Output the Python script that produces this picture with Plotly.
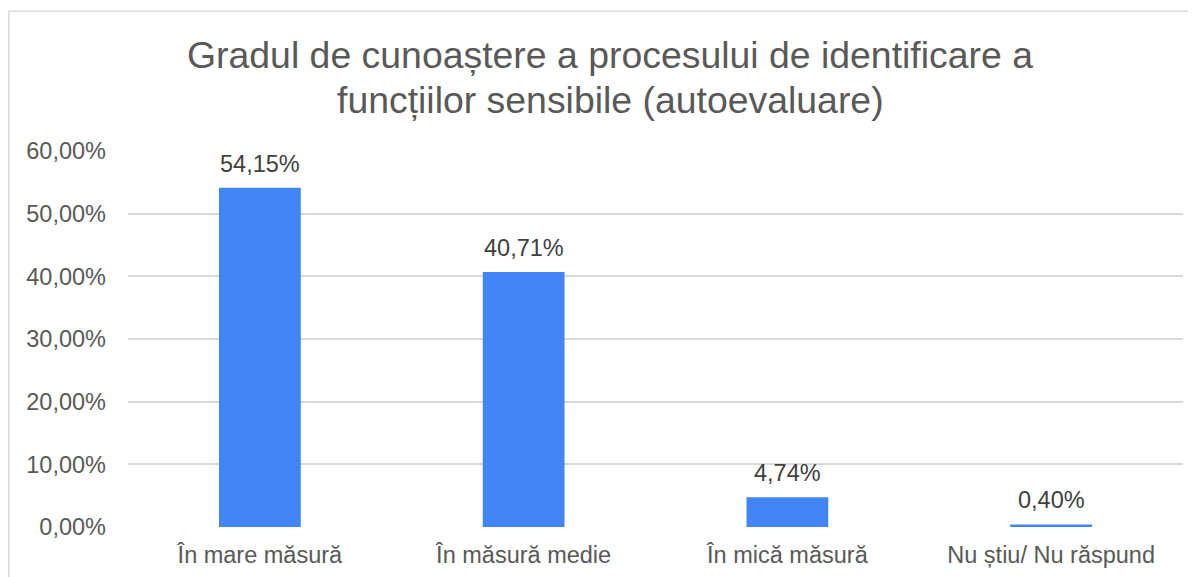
import plotly.graph_objects as go

categories = ["În mare măsură", "În măsură medie", "În mică măsură", "Nu știu/ Nu răspund"]
values = [0.5415, 0.4071, 0.0474, 0.0040]
tick_vals = [0, 0.1, 0.2, 0.3, 0.4, 0.5, 0.6]
title_lines = ["Gradul de cunoaștere a procesului de identificare a",
               "funcțiilor sensibile (autoevaluare)"]

OFF = 8  # browser default body margin
W, H = 1196 - OFF, 577 - OFF
# plot area in page pixels
PX0, PX1, PY0, PY1 = 128, 1183, 151, 527.5
L, R, T, B = PX0 - OFF, W - (PX1 - OFF), PY0 - OFF, H - (PY1 - OFF)
pw, ph = PX1 - PX0, PY1 - PY0

def px(x):
    return (x - PX0) / pw

def py(y):
    return (PY1 - y) / ph

FONT = "Liberation Sans, Arial"

fig = go.Figure()
fig.add_trace(go.Bar(
    x=categories, y=values,
    marker=dict(color="#4285F4", line=dict(width=0)),
    hoverinfo="x+y",
))

annotations = []
for c, v in zip(categories, values):
    annotations.append(dict(
        x=c, y=v, xref="x", yref="y", text=f"{v*100:.2f}%".replace(".", ","),
        showarrow=False, xanchor="center", yanchor="bottom", yshift=9,
        font=dict(size=23.5, color="#404040", family=FONT),
    ))
for line, yc in zip(title_lines, [55, 100]):
    annotations.append(dict(
        text=line, xref="paper", yref="paper",
        x=px(610), y=py(yc), xanchor="center", yanchor="middle",
        showarrow=False, font=dict(size=37.4, color="#595959", family=FONT),
    ))

fig.update_layout(
    width=W, height=H,
    margin=dict(l=L, r=R, t=T, b=B, pad=0, autoexpand=False),
    separators=",.",
    paper_bgcolor="white", plot_bgcolor="white",
    bargap=0.69,
    showlegend=False,
    font=dict(family=FONT, color="#595959", size=23.5),
    xaxis=dict(showgrid=False, showline=False, ticks="", automargin=False,
               tickfont=dict(size=23.5, color="#595959"), ticklabelstandoff=11),
    yaxis=dict(range=[0, 0.6], tickvals=tick_vals, tickformat=".2%", automargin=False,
               showgrid=True, gridcolor="#d9d9d9", gridwidth=1.5,
               zeroline=False, showline=False,
               tickfont=dict(size=23.5, color="#595959"), ticklabelstandoff=21),
    annotations=annotations,
    shapes=[
        dict(type="line", xref="paper", yref="paper", x0=px(8.75), x1=px(8.75), y0=py(600), y1=py(11),
             line=dict(color="#d9d9d9", width=1.5)),
        dict(type="line", xref="paper", yref="paper", x0=px(8), x1=px(1220), y0=py(11), y1=py(11),
             line=dict(color="#d9d9d9", width=1.5)),
    ],
)

fig.write_html("out.html")
